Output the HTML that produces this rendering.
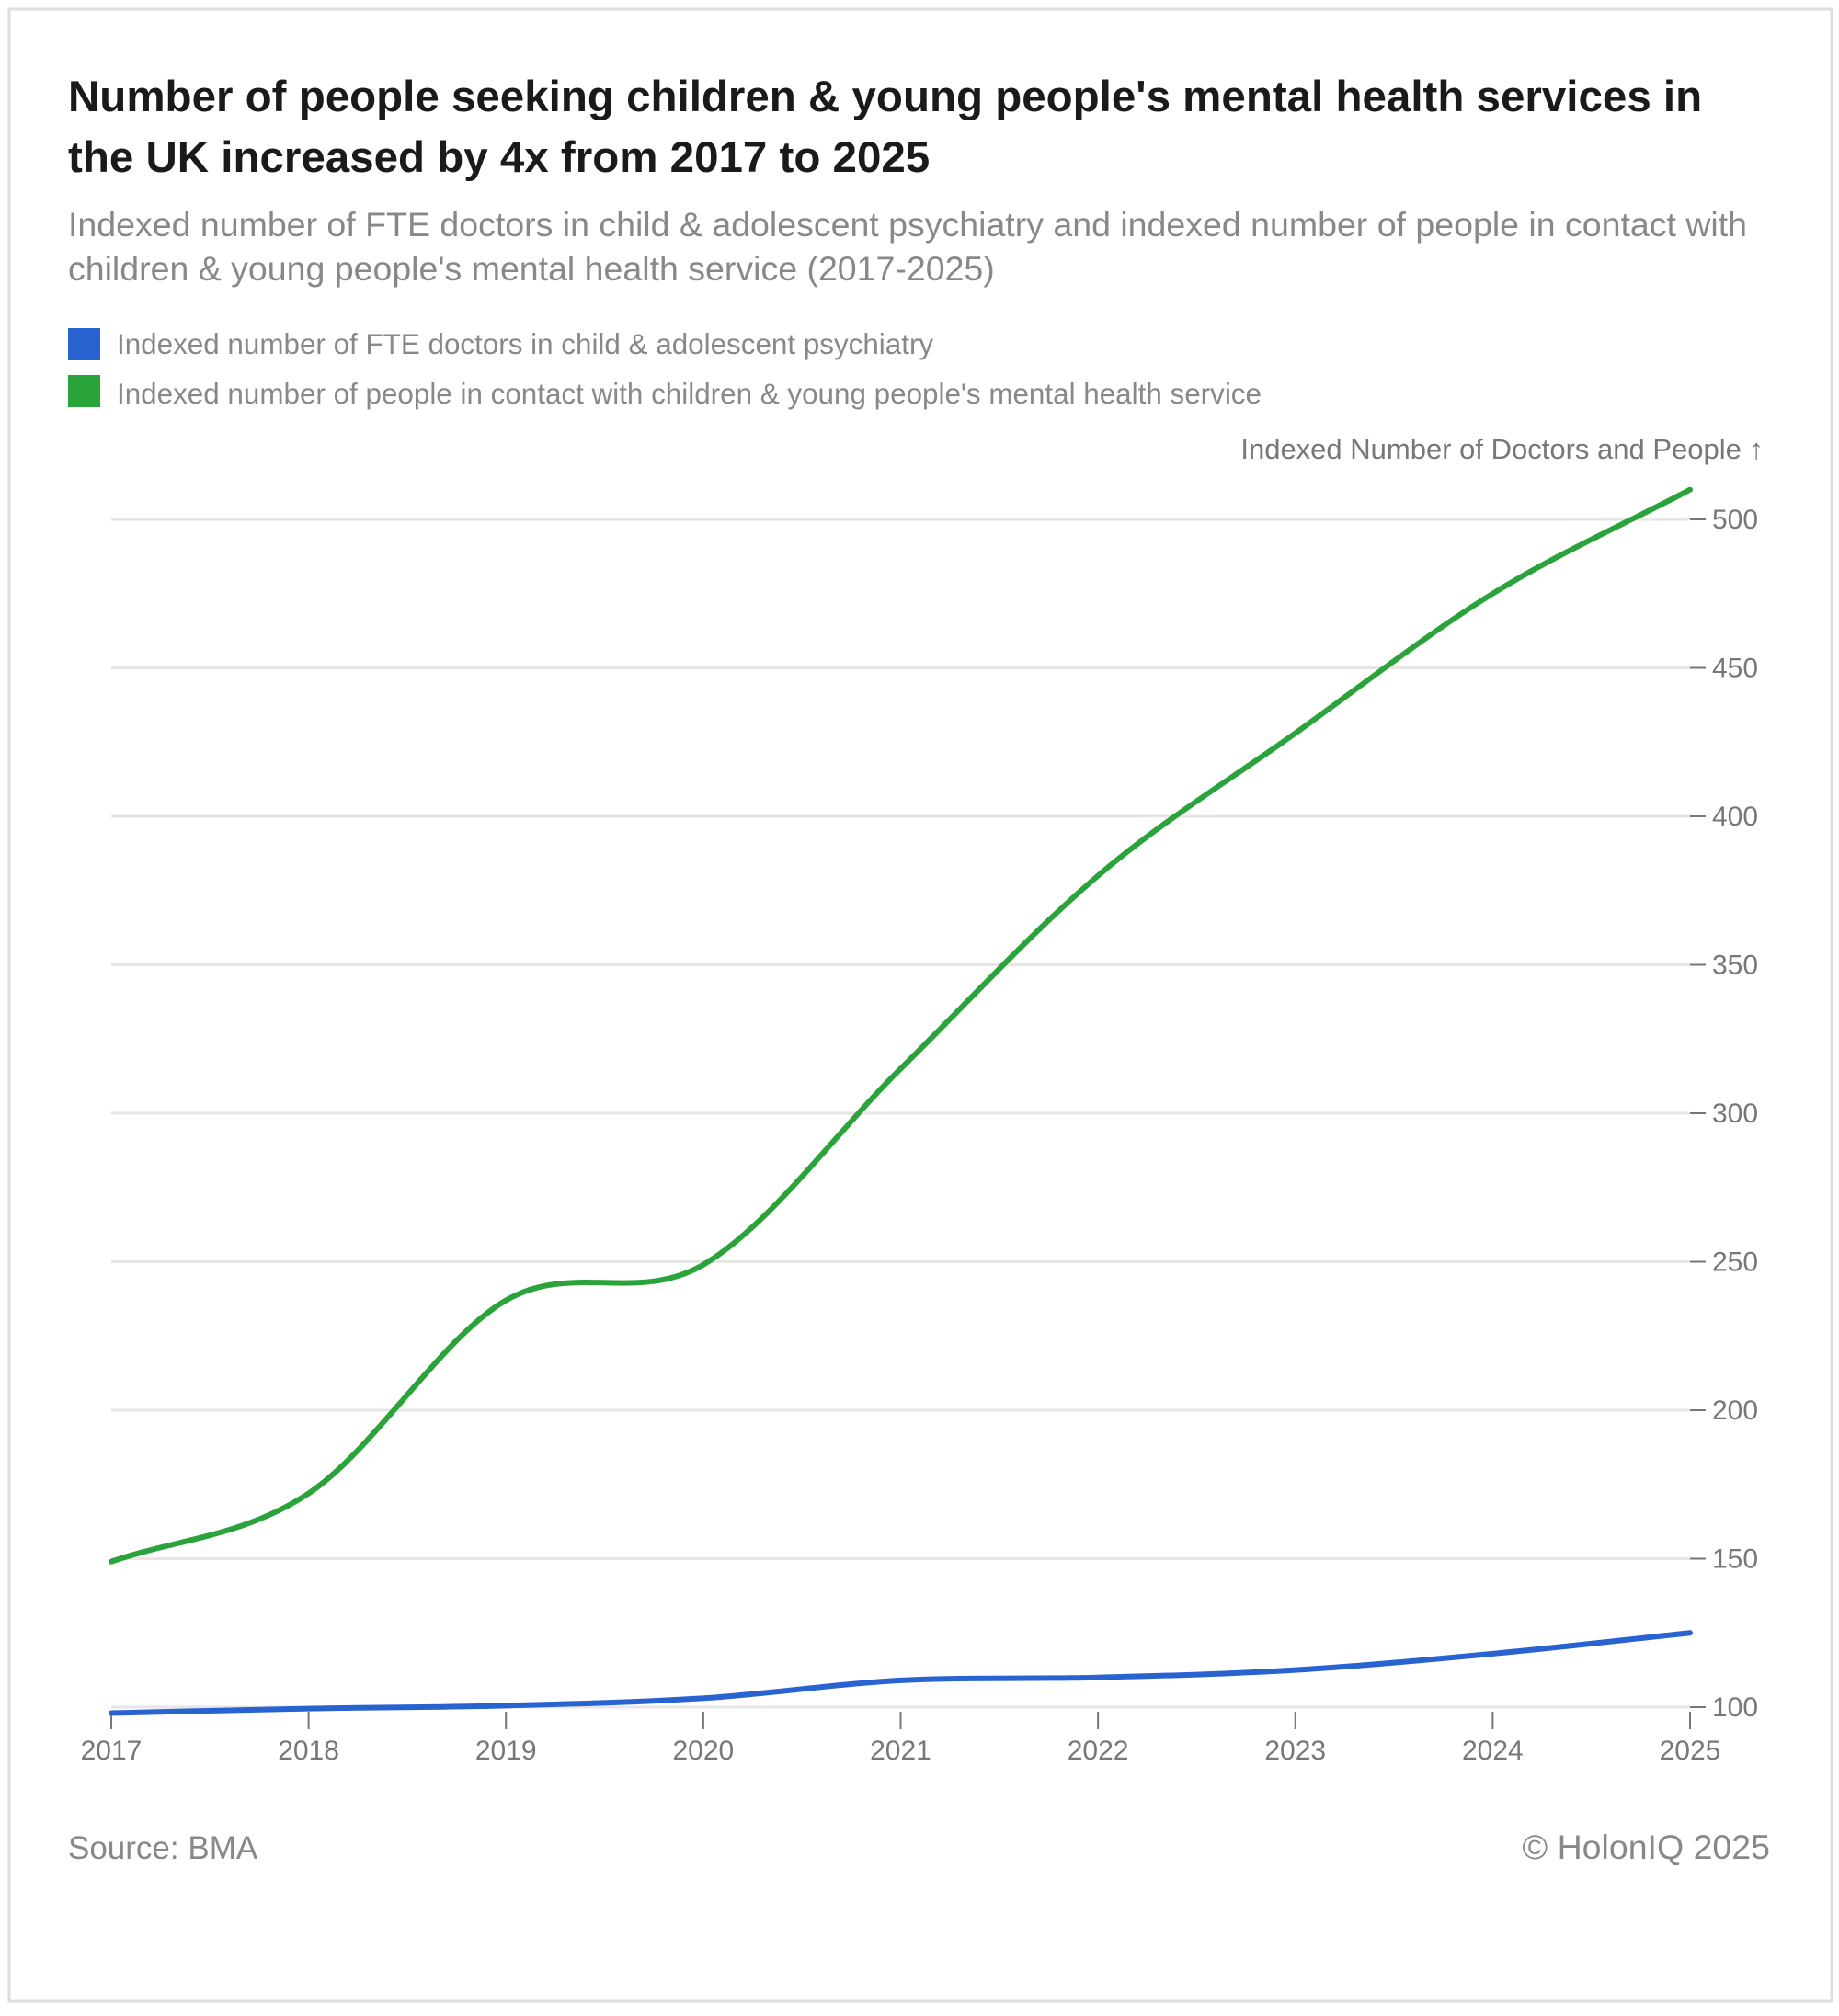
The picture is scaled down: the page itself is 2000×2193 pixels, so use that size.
<!DOCTYPE html>
<html><head><meta charset="utf-8"><style>
body{margin:0;background:#fff;width:2000px;height:2188px;overflow:hidden;font-family:"Liberation Sans",sans-serif}
</style></head><body>
<svg width="2000" height="2188" viewBox="0 0 2000 2188">
<rect x="10" y="10" width="1982" height="2167" fill="#fff" stroke="#ddd" stroke-width="3"/>
<text x="74" y="121" font-size="47.5" font-weight="bold" fill="#1a1a1a">Number of people seeking children &amp; young people's mental health services in</text>
<text x="74" y="187" font-size="47.5" font-weight="bold" fill="#1a1a1a">the UK increased by 4x from 2017 to 2025</text>
<text x="74" y="257" font-size="37.5" fill="#888">Indexed number of FTE doctors in child &amp; adolescent psychiatry and indexed number of people in contact with</text>
<text x="74" y="305" font-size="37.5" fill="#888">children &amp; young people's mental health service (2017-2025)</text>
<g><rect x="74" y="357" width="35" height="35" fill="#2962d1"/><text x="127" y="385" font-size="31.4" fill="#888">Indexed number of FTE doctors in child &amp; adolescent psychiatry</text></g>
<g><rect x="74" y="408" width="35" height="35" fill="#2aa33a"/><text x="127" y="439" font-size="31.4" fill="#888">Indexed number of people in contact with children &amp; young people's mental health service</text></g>
<text x="1918" y="499" font-size="31" fill="#777" text-anchor="end">Indexed Number of Doctors and People ↑</text>
<g id="grid"></g><g id="lines"></g>
<text x="74" y="2022" font-size="35" fill="#888">Source: BMA</text>
<text x="1925" y="2022" font-size="37.5" fill="#888" text-anchor="end">© HolonIQ 2025</text>
</svg>
<script>
const years=[2017,2018,2019,2020,2021,2022,2023,2024,2025];
const peopleValues=[149,172,237,249,315,380,428,475,510];
const doctorValues=[98,99.5,100.5,103,109,110,112.5,118,125];
const yTicks=[100,150,200,250,300,350,400,450,500];
const NS="http://www.w3.org/2000/svg";
const x0=121,x1=1838,y0=1857,y1=565;
function xs(i){return x0+(x1-x0)*(years[i]-years[0])/(years[years.length-1]-years[0]);}
function ys(v){return y0-(v-100)/(500-100)*(y0-y1);}
const grid=document.getElementById('grid'),lines=document.getElementById('lines');
function mk(t,a,p){const e=document.createElementNS(NS,t);for(const k in a)e.setAttribute(k,a[k]);p.appendChild(e);return e;}
yTicks.forEach(v=>{
 const g=mk('line',{x1:x0,x2:x1,y1:ys(v),y2:ys(v),stroke:'#e6e6e6','stroke-width':3},grid);
 
 
 mk('line',{x1:x1,x2:x1+17,y1:ys(v),y2:ys(v),stroke:'#777','stroke-width':2},grid);
 const t=mk('text',{x:1862,y:ys(v)+10,'font-size':30,fill:'#777'},grid);t.textContent=v;
 
 
});
years.forEach((yr,i)=>{
 mk('line',{x1:xs(i),x2:xs(i),y1:y0+5,y2:y0+24,stroke:'#777','stroke-width':2},grid);
 const t=mk('text',{x:xs(i),y:y0+57,'font-size':30,fill:'#777','text-anchor':'middle'},grid);t.textContent=yr;
 
 
});
function path(vals){
 const n=vals.length,px=vals.map((v,i)=>xs(i)),py=vals.map(ys);
 const d=[],m=[];
 for(let i=0;i<n-1;i++)d.push((py[i+1]-py[i])/(px[i+1]-px[i]));
 for(let i=0;i<n;i++){if(i==0)m.push(d[0]);else if(i==n-1)m.push(d[n-2]);else m.push(d[i-1]*d[i]<=0?0:(d[i-1]+d[i])/2);}
 let s='M'+px[0]+','+py[0];
 for(let i=0;i<n-1;i++){const h=(px[i+1]-px[i])/3;s+=' C'+(px[i]+h)+','+(py[i]+m[i]*h)+' '+(px[i+1]-h)+','+(py[i+1]-m[i+1]*h)+' '+px[i+1]+','+py[i+1];}
 return s;
}
const lp=mk('path',{d:path(peopleValues),fill:'none',stroke:'#2aa33a','stroke-width':6,'stroke-linecap':'round'},lines);


const ld=mk('path',{d:path(doctorValues),fill:'none',stroke:'#2962d1','stroke-width':6,'stroke-linecap':'round'},lines);


</script>
</body></html>
